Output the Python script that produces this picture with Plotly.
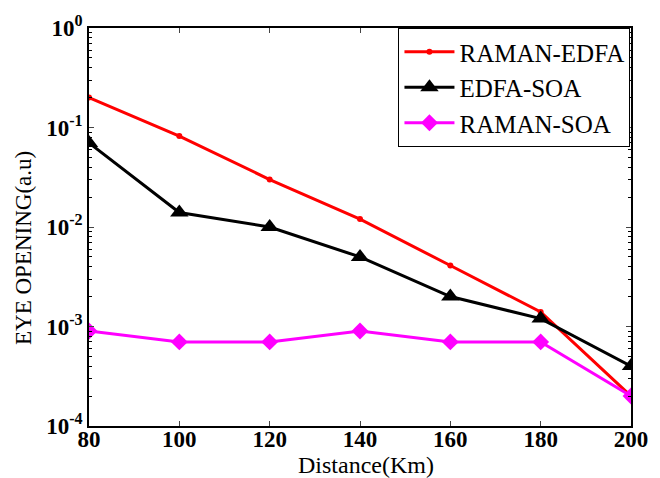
import plotly.graph_objects as go

distance = [80, 100, 120, 140, 160, 180, 200]
raman_edfa = [0.2, 0.082, 0.03, 0.012, 0.0041, 0.0014, 0.0002]
edfa_soa = [0.07, 0.014, 0.01, 0.005, 0.002, 0.0012, 0.0004]
raman_soa = [0.0009, 0.0007, 0.0007, 0.0009, 0.0007, 0.0007, 0.0002]

ytick_vals = [1e-4, 1e-3, 1e-2, 1e-1, 1]
ytick_text = ["10<sup>-4</sup>", "10<sup>-3</sup>", "10<sup>-2</sup>", "10<sup>-1</sup>", "10<sup>0</sup>"]
xtick_vals = [80, 100, 120, 140, 160, 180, 200]
minor_mult = [2, 3, 4, 5, 6, 7, 8, 9]
minor_vals = [m * 10 ** e for e in range(-4, 0) for m in minor_mult]

font = "Liberation Serif, Times New Roman, serif"

fig = go.Figure()
fig.add_trace(go.Scatter(x=distance, y=raman_edfa, mode="lines+markers", name="RAMAN-EDFA",
                         line=dict(color="#ff0000", width=3),
                         marker=dict(symbol="circle", size=6, color="#ff0000")))
fig.add_trace(go.Scatter(x=distance, y=edfa_soa, mode="lines+markers", name="EDFA-SOA",
                         line=dict(color="#000000", width=3),
                         marker=dict(symbol="triangle-up", size=16, color="#000000")))
fig.add_trace(go.Scatter(x=distance, y=raman_soa, mode="lines+markers", name="RAMAN-SOA",
                         line=dict(color="#ff00ff", width=3),
                         marker=dict(symbol="diamond", size=13, color="#ff00ff")))

fig.update_layout(
    width=652, height=470,
    margin=dict(l=81, r=29, t=20, b=52),
    paper_bgcolor="white", plot_bgcolor="white",
    font=dict(family=font, color="black"),
    showlegend=True,
    legend=dict(x=0.999, y=1.0, xanchor="right", yanchor="top",
                bordercolor="black", borderwidth=1, bgcolor="white",
                font=dict(size=25, family=font), tracegroupgap=0, itemwidth=50),
    xaxis=dict(range=[80, 200], tickvals=xtick_vals, ticks="inside", ticklen=5,
               mirror="ticks", showline=True, linecolor="black", linewidth=1.5,
               showgrid=False, zeroline=False, automargin=False, ticklabelstandoff=-8,
               tickfont=dict(size=23, family=font, weight="bold")),
    yaxis=dict(type="log", range=[-4, 0], tickvals=ytick_vals, ticktext=ytick_text,
               ticks="inside", ticklen=5, mirror="ticks", showline=True,
               linecolor="black", linewidth=1.5, showgrid=False, zeroline=False,
               automargin=False,
               minor=dict(tickvals=minor_vals, ticks="inside", ticklen=3,
                          tickcolor="black", showgrid=False),
               tickfont=dict(size=23, family=font, weight="bold")),
    annotations=[
        dict(text="Distance(Km)", xref="paper", yref="paper", x=0.511, y=-0.097,
             xanchor="center", yanchor="middle", showarrow=False,
             font=dict(size=24, family=font)),
        dict(text="EYE OPENING(a.u)", xref="paper", yref="paper", x=-0.122, y=0.447,
             xanchor="center", yanchor="middle", textangle=-90, showarrow=False,
             font=dict(size=23, family=font)),
    ],
)

fig.write_html("out.html")
